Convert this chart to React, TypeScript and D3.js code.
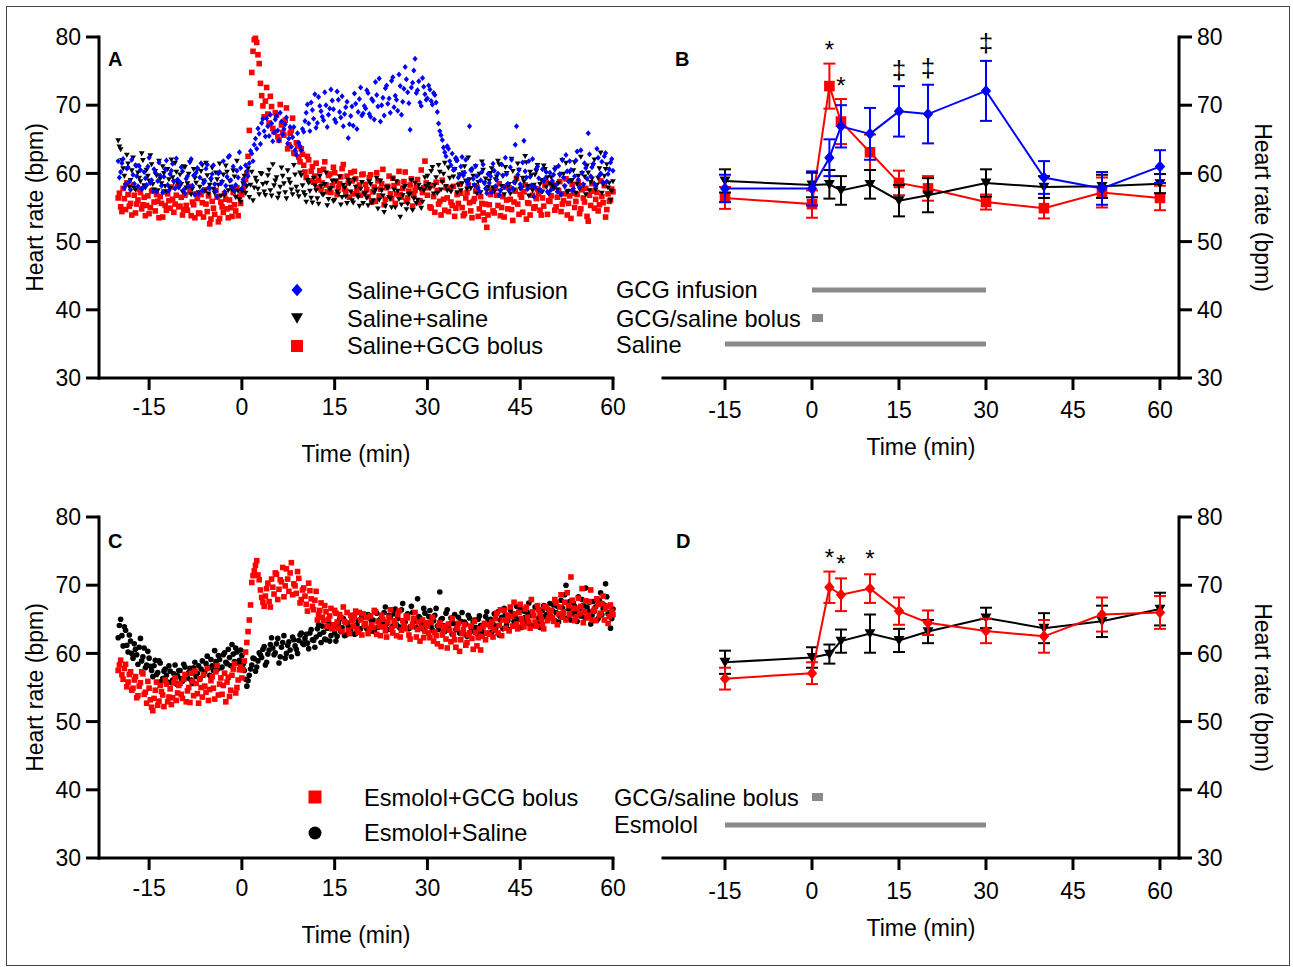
import React from 'react';
import * as d3 from 'd3';

const FONT = '"Liberation Sans", Arial, Helvetica, sans-serif';
const BLUE = '#0000ff';
const RED = '#ff0000';
const BLACK = '#000000';
const GRAY = '#8a8a8a';

// axis ticks
const xTickValues = [-15, 0, 15, 30, 45, 60];
const yTickValues = [30, 40, 50, 60, 70, 80];

// continuous recordings (A, C): readings every 0.4 min from -20 min,
// plus the readings half-way between them (from -19.8 min)
const scatterStart = -20;
const scatterStartMid = -19.8;
const scatterStep = 0.4;

const aInfusion = [
  61.8, 60.2, 62.1, 58.4, 60.9, 57.6, 59.8, 61.2, 58.1, 60.5, 57.9, 59.3, 61.0, 58.6, 57.4, 60.1, 58.9, 59.7, 57.2, 60.6, 58.3, 59.9, 61.4, 57.8, 59.1,
  58.7, 60.3, 57.1, 59.6, 61.7, 58.2, 56.9, 60.8, 59.4, 57.5, 58.9, 61.3, 57.8, 59.9, 58.4, 56.6, 60.2, 58.8, 57.3, 59.5, 62.6, 58.0, 57.4, 60.4, 63.1,
  57.8, 58.5, 60.3, 61.5, 62.9, 64.2, 63.6, 65.8, 67.4, 66.2, 68.1, 65.5, 67.3, 66.0, 68.4, 64.8, 67.6, 66.5, 68.2, 65.1, 63.9, 66.8, 62.7, 64.5, 63.4,
  66.1, 68.9, 67.3, 70.4, 68.0, 66.7, 71.2, 69.1, 67.8, 70.0, 68.6, 72.3, 69.4, 67.5, 70.8, 68.2, 66.9, 69.7, 65.2, 68.4, 67.0, 70.2, 69.0, 72.6, 68.8,
  69.5, 71.8, 68.3, 70.6, 73.4, 69.8, 67.6, 71.1, 72.5, 70.2, 68.9, 74.1, 71.4, 69.2, 72.8, 70.5, 75.6, 71.9, 66.4, 73.3, 76.8, 72.2, 70.4, 74.0, 71.6,
  71.0, 72.3, 70.1, 71.5, 69.0, 66.2, 64.9, 63.1, 64.0, 61.8, 62.9, 60.6, 61.9, 59.8, 62.4, 60.1, 58.9, 66.9, 60.7, 58.3, 59.6, 57.4, 60.2, 58.6, 57.1,
  58.6, 57.2, 60.4, 59.1, 56.8, 61.3, 58.0, 59.9, 57.5, 62.0, 58.7, 66.9, 60.5, 57.9, 64.8, 59.4, 61.8, 58.2, 56.6, 60.7, 59.3, 57.4, 58.9, 60.2, 57.1,
  57.6, 59.8, 58.3, 61.1, 57.0, 59.4, 62.7, 58.8, 60.5, 57.8, 61.9, 59.1, 63.4, 58.4, 60.8, 65.9, 59.6, 61.4, 58.1, 62.3, 60.0, 58.7, 63.0, 59.9, 61.6,
  60.4,
];
const aInfusionMid = [
  59.4, 61.5, 57.9, 60.7, 58.8, 62.0, 58.5, 59.6, 61.1, 57.7, 60.2, 58.3, 62.3, 59.0, 60.6, 57.3, 61.6, 58.2, 59.5, 61.9, 57.5, 60.4, 58.9, 62.2, 58.0,
  60.9, 57.6, 59.2, 58.1, 62.1, 59.7, 60.1, 57.0, 61.5, 58.6, 60.7, 57.9, 59.3, 61.2, 57.4, 60.0, 58.5, 61.8, 58.2, 62.4, 59.0, 61.0, 58.3, 59.4, 60.8,
  59.1, 61.2, 59.6, 63.3, 61.8, 65.1, 66.6, 64.3, 68.0, 65.4, 66.9, 68.6, 64.7, 67.9, 66.3, 68.9, 65.7, 67.2, 64.4, 66.8, 65.3, 63.4, 65.9, 64.0, 66.5,
  67.7, 70.1, 66.2, 69.3, 71.6, 67.4, 69.9, 68.3, 71.9, 66.8, 69.5, 70.7, 67.9, 72.0, 69.0, 71.3, 68.7, 70.5, 67.2, 69.8, 71.7, 66.5, 70.9, 68.5, 69.9,
  72.2, 68.7, 70.9, 67.9, 71.5, 73.9, 70.0, 68.5, 72.9, 71.0, 73.6, 69.7, 70.8, 74.5, 68.6, 72.4, 73.8, 70.3, 72.6, 75.1, 71.8, 73.5, 69.9, 72.7, 70.8,
  72.9, 70.6, 71.8, 70.4, 67.3, 65.6, 63.8, 62.5, 63.6, 61.2, 60.5, 62.3, 59.4, 61.0, 59.7, 62.0, 58.4, 60.5, 59.2, 61.1, 57.9, 59.0, 61.3, 57.8, 59.9,
  59.6, 61.4, 58.1, 60.0, 57.5, 59.7, 62.3, 58.5, 60.9, 57.8, 64.2, 59.8, 58.4, 61.6, 60.3, 57.7, 59.5, 62.1, 58.0, 61.0, 57.6, 60.6, 59.2, 57.3, 60.1,
  58.9, 60.7, 57.3, 59.9, 62.0, 58.2, 60.3, 61.8, 57.5, 59.6, 63.2, 58.0, 60.1, 61.5, 59.2, 62.8, 60.9, 58.5, 63.6, 59.7, 61.7, 62.5, 58.8, 60.6, 62.1,
];
const aSaline = [
  64.8, 63.5, 60.7, 58.2, 61.4, 59.0, 62.3, 57.6, 60.1, 58.8, 61.9, 57.9, 59.6, 62.6, 58.4, 60.3, 57.5, 59.2, 61.0, 58.1, 60.6, 57.8, 59.4, 61.5, 58.6,
  59.8, 57.3, 60.9, 58.5, 61.6, 57.7, 59.3, 60.5, 58.0, 61.2, 57.4, 59.7, 58.3, 60.8, 57.1, 59.1, 61.4, 58.7, 56.8, 60.2, 58.9, 57.6, 59.5, 61.8, 56.2,
  57.4, 59.6, 58.1, 56.5, 60.2, 57.9, 58.8, 56.9, 59.9, 57.3, 58.6, 60.5, 56.7, 58.2, 59.4, 57.0, 60.8, 58.5, 56.3, 59.1, 57.6, 61.2, 58.0, 56.6, 59.7,
  57.2, 55.8, 58.6, 56.4, 59.3, 57.5, 55.5, 58.1, 56.9, 60.1, 56.2, 57.8, 55.9, 58.9, 57.0, 55.4, 58.3, 56.6, 59.0, 57.3, 55.7, 58.0, 56.5, 57.7, 55.6,
  57.1, 55.3, 58.4, 56.0, 57.6, 54.8, 58.9, 56.7, 55.2, 57.9, 56.3, 59.2, 55.0, 57.4, 53.6, 56.8, 58.1, 55.5, 57.0, 54.6, 58.6, 56.1, 57.7, 55.8, 59.4,
  59.6, 57.8, 60.9, 58.3, 57.1, 60.2, 58.7, 61.5, 57.5, 59.3, 58.0, 60.6, 57.2, 59.8, 58.5, 61.0, 57.7, 59.1, 60.4, 58.2, 57.0, 59.9, 61.7, 58.6, 57.4,
  58.9, 60.7, 57.3, 59.5, 61.3, 58.1, 56.9, 60.0, 58.4, 62.1, 57.6, 59.2, 60.5, 57.9, 58.8, 61.6, 56.7, 59.7, 58.3, 60.3, 57.5, 59.0, 61.1, 58.0, 57.2,
  59.4, 57.8, 60.8, 58.6, 56.8, 59.9, 61.5, 57.4, 58.9, 60.4, 57.1, 59.6, 62.4, 58.2, 56.9, 60.1, 58.7, 61.2, 57.6, 59.3, 63.0, 58.4, 60.6, 57.9, 56.0,
  58.8,
];
const aSalineMid = [
  63.9, 61.9, 59.6, 62.7, 58.0, 60.4, 57.8, 61.1, 59.3, 62.9, 58.2, 60.5, 58.9, 61.3, 57.6, 59.7, 61.8, 58.5, 60.0, 57.3, 59.1, 62.0, 58.7, 60.2, 57.9,
  58.4, 61.0, 57.9, 59.9, 56.9, 60.6, 58.6, 57.2, 60.3, 58.9, 61.5, 57.0, 59.0, 57.7, 60.1, 58.3, 56.7, 59.8, 61.1, 57.5, 58.0, 60.4, 56.5, 57.4, 55.8,
  58.5, 57.1, 60.7, 58.3, 56.0, 59.3, 57.7, 60.0, 58.4, 56.8, 59.7, 57.5, 61.3, 58.9, 56.4, 58.0, 59.6, 57.2, 60.4, 58.6, 56.9, 59.8, 57.3, 60.1, 58.2,
  56.8, 59.0, 57.4, 55.7, 58.2, 56.3, 59.6, 56.9, 58.4, 55.3, 57.6, 58.9, 56.1, 57.3, 59.5, 56.5, 57.9, 55.6, 58.5, 56.0, 59.1, 56.8, 55.2, 58.7, 57.0,
  56.4, 58.8, 55.7, 57.2, 59.3, 56.1, 57.5, 54.3, 58.0, 56.5, 55.0, 57.6, 58.8, 56.2, 55.4, 57.9, 54.7, 56.9, 59.0, 56.3, 55.6, 58.3, 54.9, 57.5, 58.1,
  58.4, 60.3, 57.0, 59.4, 61.2, 57.6, 59.9, 58.1, 60.8, 57.3, 59.5, 61.9, 58.3, 57.5, 60.1, 58.9, 62.3, 57.8, 59.6, 61.0, 58.7, 57.2, 60.5, 59.2, 58.0,
  60.0, 57.9, 59.1, 61.8, 57.4, 59.6, 60.9, 58.2, 57.0, 60.3, 58.6, 61.4, 57.7, 59.3, 62.5, 58.1, 60.2, 57.5, 59.8, 61.2, 58.4, 57.3, 60.6, 59.4, 58.5,
  58.2, 60.5, 57.6, 59.7, 61.9, 58.0, 57.3, 60.2, 59.0, 61.6, 58.4, 57.7, 60.0, 59.5, 61.1, 57.5, 59.2, 62.0, 58.3, 60.7, 57.1, 59.6, 61.3, 58.6, 57.4,
];
const aBolus = [
  56.4, 55.1, 57.8, 54.7, 56.9, 55.6, 58.3, 54.2, 56.1, 57.2, 55.4, 53.8, 56.7, 55.0, 57.5, 54.5, 55.9, 56.6, 53.6, 55.3, 57.0, 54.9, 56.2, 55.5, 58.1,
  55.2, 53.9, 56.8, 54.6, 57.3, 55.8, 53.5, 56.3, 54.1, 55.7, 57.6, 54.4, 52.6, 55.9, 54.0, 56.5, 53.4, 55.1, 57.0, 54.8, 56.1, 53.7, 55.4, 57.9, 56.6,
  56.9, 58.2, 60.0, 66.3, 74.8, 79.6, 79.2, 76.1, 71.4, 68.3, 72.6, 67.4, 69.8, 66.1, 68.5, 64.9, 67.1, 65.6, 69.6, 64.2, 66.3, 63.0, 64.5, 62.4, 63.6,
  61.2, 59.4, 62.0, 60.3, 58.7, 61.5, 59.0, 57.6, 60.6, 58.3, 59.7, 57.2, 60.9, 58.8, 57.9, 59.5, 61.3, 57.4, 58.6, 60.1, 57.0, 59.2, 58.0, 56.8, 59.9,
  58.4, 56.6, 59.8, 57.3, 55.9, 58.9, 57.7, 60.6, 56.2, 58.1, 57.0, 59.3, 55.6, 58.6, 56.9, 57.8, 60.2, 56.4, 58.3, 55.2, 57.5, 59.1, 56.0, 57.2, 61.8,
  56.8, 55.1, 58.2, 54.3, 57.5, 55.9, 59.0, 54.6, 56.4, 57.8, 55.3, 53.7, 56.9, 58.4, 55.0, 54.1, 57.2, 55.7, 53.5, 56.3, 58.0, 54.8, 55.6, 53.2, 52.1,
  55.4, 57.6, 54.2, 56.8, 58.5, 55.0, 53.6, 56.1, 57.9, 54.7, 55.8, 59.3, 54.0, 56.5, 57.3, 53.3, 55.6, 58.1, 54.9, 56.3, 57.0, 53.9, 55.2, 58.7, 56.0,
  56.7, 58.3, 55.1, 57.5, 54.4, 56.0, 59.2, 55.6, 53.4, 57.1, 55.9, 58.6, 54.8, 56.4, 57.8, 53.0, 55.3, 57.4, 56.2, 54.5, 58.9, 55.7, 53.6, 57.0, 56.1,
  57.3,
];
const aBolusMid = [
  57.1, 54.4, 56.3, 58.6, 55.2, 53.9, 56.8, 55.5, 57.7, 54.8, 56.5, 55.3, 54.1, 57.4, 55.8, 56.9, 53.5, 55.6, 57.3, 54.6, 56.0, 58.0, 54.3, 56.8, 55.1,
  56.5, 54.7, 55.3, 58.1, 53.8, 55.4, 57.0, 54.2, 56.9, 53.6, 55.5, 56.7, 53.3, 54.9, 57.5, 52.9, 55.8, 54.3, 56.2, 53.5, 55.0, 57.2, 54.5, 53.8, 55.6,
  57.6, 59.1, 62.5, 70.3, 77.9, 79.8, 77.4, 73.2, 69.9, 70.6, 68.7, 71.3, 66.6, 68.9, 65.4, 70.1, 66.0, 67.8, 63.6, 65.9, 68.1, 62.9, 64.0, 61.7, 62.8,
  60.2, 62.5, 58.9, 61.0, 59.6, 57.9, 60.4, 58.6, 61.7, 57.3, 59.9, 58.2, 60.1, 56.9, 58.5, 60.7, 57.7, 59.6, 56.5, 58.9, 60.3, 57.5, 58.3, 59.8, 57.1,
  57.6, 59.4, 55.8, 58.0, 60.1, 56.7, 58.5, 55.4, 57.9, 59.6, 56.3, 58.2, 57.0, 60.3, 56.5, 58.8, 55.9, 57.4, 59.2, 56.8, 58.0, 55.7, 60.5, 57.9, 58.6,
  57.9, 54.9, 56.6, 58.7, 55.5, 53.9, 56.2, 57.9, 54.4, 55.8, 58.1, 54.9, 55.6, 57.1, 53.8, 56.4, 58.3, 54.5, 55.9, 57.4, 53.7, 56.6, 54.2, 55.5, 53.9,
  56.9, 54.5, 57.8, 55.3, 53.8, 56.6, 58.0, 54.8, 56.2, 53.1, 57.4, 55.5, 56.9, 54.3, 58.3, 55.7, 53.9, 56.8, 55.1, 57.7, 54.6, 56.4, 58.2, 54.0, 55.9,
  57.9, 54.6, 56.5, 58.8, 55.5, 57.0, 53.9, 56.7, 58.4, 55.0, 56.9, 54.1, 57.6, 55.8, 53.7, 56.8, 58.5, 54.9, 57.2, 55.4, 56.6, 58.2, 54.7, 55.9, 57.7,
];
const cBolus = [
  57.5, 59.0, 56.2, 58.4, 55.8, 57.3, 54.9, 56.6, 53.8, 55.7, 57.0, 54.3, 55.9, 53.2, 51.6, 54.6, 52.4, 55.3, 53.9, 56.1, 52.9, 54.8, 53.5, 56.4, 54.2,
  55.6, 53.4, 56.9, 54.5, 52.8, 55.9, 57.4, 54.1, 56.3, 53.6, 55.2, 57.8, 54.7, 56.6, 53.3, 58.2, 55.5, 54.0, 57.1, 55.8, 53.7, 56.8, 58.5, 55.0, 57.6,
  56.4, 58.9, 61.6, 64.9, 70.4, 72.1, 73.6, 70.8, 68.2, 66.9, 69.5, 67.6, 70.9, 68.7, 71.6, 69.4, 70.5, 68.3, 72.4, 69.1, 73.3, 70.2, 68.8, 71.0, 67.9,
  69.6, 67.2, 70.3, 68.0, 66.4, 69.1, 65.7, 67.4, 64.8, 66.1, 65.0, 66.6, 64.2, 65.9, 63.7, 65.3, 66.8, 64.5, 63.4, 65.6, 64.0, 66.2, 63.1, 64.9, 65.8,
  64.4, 62.9, 65.5, 63.8, 66.1, 64.7, 62.6, 65.0, 63.3, 64.6, 66.4, 63.0, 64.1, 65.7, 62.4, 64.8, 63.6, 65.2, 62.1, 64.3, 66.0, 63.5, 61.8, 64.9, 63.2,
  64.0, 62.3, 65.3, 63.1, 61.4, 64.5, 62.7, 63.9, 60.8, 63.4, 65.1, 62.0, 63.7, 60.3, 62.9, 64.2, 61.6, 63.0, 62.2, 64.7, 61.1, 63.6, 62.5, 64.4, 63.0,
  62.8, 64.6, 63.5, 65.9, 64.1, 62.6, 66.3, 64.8, 63.3, 65.4, 67.5, 64.3, 66.0, 65.1, 63.9, 66.8, 64.6, 67.9, 65.5, 64.0, 66.4, 65.0, 63.6, 66.7, 65.2,
  66.3, 64.7, 67.4, 65.8, 68.6, 66.1, 64.9, 67.0, 71.2, 66.6, 65.3, 68.1, 66.9, 64.5, 67.7, 65.6, 69.3, 66.2, 64.8, 67.2, 65.9, 68.4, 66.5, 64.4, 67.1,
  65.7,
];
const cBolusMid = [
  58.3, 56.9, 57.8, 55.1, 56.9, 54.6, 56.1, 53.5, 55.2, 57.3, 54.0, 52.7, 54.9, 52.1, 53.4, 55.8, 53.0, 54.4, 52.2, 55.5, 53.6, 52.5, 55.7, 53.1, 55.3,
  54.0, 56.2, 52.9, 55.0, 57.1, 53.8, 55.6, 52.7, 55.0, 56.9, 54.3, 53.1, 56.0, 54.9, 57.3, 53.9, 56.4, 55.3, 52.9, 56.5, 54.6, 57.7, 54.2, 56.1, 58.0,
  57.6, 60.2, 63.2, 67.1, 71.4, 72.9, 71.5, 69.3, 67.5, 68.4, 70.3, 66.8, 69.7, 71.8, 67.9, 70.8, 72.6, 69.9, 70.9, 71.8, 68.6, 69.9, 72.0, 67.4, 69.3,
  68.4, 66.2, 69.2, 66.9, 67.8, 64.9, 66.3, 65.3, 67.0, 64.0, 65.5, 63.6, 66.3, 64.6, 65.7, 63.2, 64.7, 66.0, 62.9, 64.8, 65.4, 63.6, 66.0, 62.7, 64.1,
  65.3, 63.6, 64.2, 66.3, 62.8, 64.0, 65.6, 63.9, 62.4, 65.3, 63.7, 64.8, 62.6, 66.2, 63.4, 64.1, 65.5, 62.7, 63.9, 65.1, 62.4, 64.6, 63.8, 62.3, 64.5,
  63.0, 64.6, 61.8, 62.6, 64.1, 61.0, 63.3, 62.1, 64.3, 61.7, 62.8, 60.9, 64.4, 62.0, 63.5, 61.2, 62.7, 64.0, 60.6, 63.1, 62.3, 60.5, 63.9, 62.0, 64.2,
  63.9, 62.4, 65.1, 63.0, 66.4, 64.9, 63.7, 65.6, 66.8, 64.0, 65.8, 63.6, 67.2, 64.4, 66.5, 65.3, 63.7, 66.1, 64.6, 67.0, 65.8, 64.2, 66.9, 64.8, 66.0,
  65.2, 67.9, 64.2, 66.8, 65.3, 67.5, 68.9, 65.7, 67.8, 64.8, 66.6, 65.8, 69.5, 66.1, 65.2, 67.6, 64.9, 66.5, 68.0, 65.6, 67.3, 64.9, 66.9, 65.4, 66.2,
];
const cSaline = [
  62.3, 65.0, 61.1, 63.4, 60.2, 61.8, 59.3, 60.6, 58.4, 62.2, 59.5, 57.9, 60.3, 58.1, 56.6, 59.0, 57.2, 58.6, 56.3, 57.7, 55.8, 57.4, 56.1, 58.3, 56.7,
  57.5, 55.9, 58.0, 56.4, 57.8, 55.6, 58.7, 57.1, 56.2, 58.9, 57.3, 59.6, 56.8, 58.2, 60.4, 57.6, 59.1, 58.0, 60.1, 58.5, 59.4, 61.3, 58.8, 60.2, 59.0,
  59.7, 57.5, 55.2, 56.8, 58.3, 59.2, 58.0, 60.1, 59.4, 61.0, 58.7, 60.5, 62.3, 59.8, 61.4, 58.6, 60.9, 62.6, 60.0, 61.7, 59.5, 62.0, 60.6, 61.9, 63.0,
  61.3, 62.8, 60.7, 63.5, 61.9, 62.4, 64.2, 61.6, 63.1, 62.0, 64.7, 62.6, 63.8, 61.8, 64.4, 63.2, 65.1, 62.7, 64.0, 63.4, 65.6, 62.9, 64.8, 63.6, 65.3,
  64.1, 65.7, 63.3, 64.9, 66.2, 63.8, 65.0, 64.4, 66.8, 63.5, 65.4, 64.0, 66.5, 65.1, 63.7, 67.3, 64.6, 65.8, 63.9, 66.0, 64.7, 68.0, 65.2, 63.6, 65.9,
  64.5, 66.3, 63.4, 65.6, 64.0, 69.0, 65.1, 63.2, 66.4, 64.3, 62.8, 65.7, 64.1, 63.0, 66.0, 64.6, 62.5, 65.2, 63.7, 64.9, 62.9, 65.5, 63.3, 64.2, 66.1,
  64.4, 63.1, 65.8, 64.0, 62.7, 65.3, 66.6, 64.2, 63.5, 65.9, 64.7, 66.9, 65.0, 63.8, 66.2, 64.5, 67.4, 65.6, 64.1, 66.7, 65.2, 63.9, 67.0, 65.7, 66.4,
  65.4, 67.1, 66.0, 64.6, 67.8, 65.9, 70.0, 66.5, 64.9, 67.4, 66.1, 68.3, 65.5, 67.0, 69.6, 66.2, 64.3, 67.6, 66.8, 65.1, 68.9, 66.6, 70.2, 65.8, 63.7,
  66.5,
];
const cSalineMid = [
  64.1, 62.6, 63.9, 61.2, 62.7, 60.0, 61.4, 59.8, 60.9, 58.9, 60.8, 58.3, 59.3, 57.5, 58.2, 56.9, 58.9, 55.9, 57.4, 56.8, 58.2, 55.7, 57.0, 55.5, 57.5,
  56.3, 58.4, 56.9, 57.2, 56.1, 57.9, 56.6, 58.2, 57.7, 56.8, 58.5, 57.9, 59.1, 57.5, 58.8, 59.7, 57.9, 59.8, 58.7, 60.6, 58.2, 59.9, 60.8, 58.6, 60.5,
  58.4, 56.2, 56.0, 57.7, 59.3, 57.4, 58.9, 59.8, 60.6, 58.3, 59.9, 61.3, 60.8, 60.1, 62.2, 59.5, 61.6, 59.3, 61.2, 60.5, 62.4, 61.1, 60.0, 62.7, 61.5,
  62.2, 61.5, 63.0, 62.0, 60.9, 63.6, 62.8, 64.0, 62.1, 63.7, 61.8, 64.1, 63.0, 62.5, 65.0, 63.8, 62.6, 64.5, 63.3, 64.9, 62.8, 64.2, 63.5, 65.4, 64.1,
  63.6, 65.2, 64.6, 63.2, 65.9, 64.8, 63.9, 66.0, 64.3, 65.6, 63.7, 65.8, 64.2, 63.9, 66.4, 64.0, 65.5, 63.6, 66.9, 64.9, 63.8, 65.4, 64.5, 66.6, 64.3,
  65.4, 63.9, 64.8, 66.6, 63.5, 65.0, 64.1, 65.9, 63.6, 65.2, 64.4, 63.5, 65.3, 64.7, 62.9, 64.3, 65.6, 63.2, 64.6, 63.8, 65.0, 64.1, 62.8, 65.4, 64.9,
  65.0, 64.3, 63.5, 66.1, 64.9, 63.6, 65.7, 64.8, 66.4, 64.0, 65.5, 63.9, 66.5, 64.8, 65.3, 66.0, 64.2, 65.9, 66.8, 64.6, 63.8, 66.3, 65.4, 64.9, 67.3,
  66.3, 64.8, 66.9, 65.5, 66.7, 68.6, 65.2, 67.6, 65.8, 66.9, 64.7, 66.6, 67.9, 65.3, 66.8, 67.5, 65.6, 66.2, 64.9, 67.8, 65.7, 67.1, 68.3, 66.0, 65.1,
];

// group means (B, D)
const sumTimes = [-15, 0, 3, 5, 10, 15, 20, 30, 40, 50, 60];
const bInfusionMean = [57.8, 57.8, 62.3, 66.9, 65.8, 69.1, 68.7, 72.1, 59.4, 57.8, 61.0];
const bInfusionErr = [2.0, 2.5, 2.7, 3.1, 3.8, 3.7, 4.3, 4.4, 2.4, 2.4, 2.4];
const bSalineMean = [58.9, 58.3, 58.4, 57.5, 58.4, 56.0, 56.8, 58.6, 58.0, 58.1, 58.5];
const bSalineErr = [1.7, 1.8, 2.1, 2.1, 2.1, 2.3, 2.5, 2.0, 1.6, 1.7, 1.4];
const bBolusMean = [56.4, 55.5, 72.8, 67.6, 63.1, 58.6, 57.8, 55.8, 54.9, 57.2, 56.4];
const bBolusErr = [1.6, 2.0, 3.3, 3.3, 2.6, 1.8, 1.8, 1.1, 1.5, 2.2, 1.8];
const dSalineMean = [58.7, 59.4, 59.9, 61.8, 62.9, 61.9, 63.2, 65.2, 63.7, 64.7, 66.5];
const dSalineErr = [1.7, 1.5, 1.4, 1.7, 2.8, 1.7, 1.7, 1.5, 2.2, 2.3, 2.4];
const dBolusMean = [56.3, 57.1, 69.7, 68.6, 69.5, 66.2, 64.5, 63.3, 62.5, 65.7, 66.0];
const dBolusErr = [1.6, 1.6, 2.3, 2.4, 2.1, 2.0, 1.8, 1.8, 2.4, 2.5, 2.4];

// significance marks (time, level in bpm)
const bStarTimes = [3, 5];
const bStarLevels = [79.0, 73.7];
const bDaggerTimes = [15, 20, 30];
const bDaggerLevels = [75.0, 75.3, 79.0];
const dStarTimes = [3, 5, 10];
const dStarLevels = [74.9, 74.0, 74.7];

// treatment periods (min)
const infusionSpan = [0, 30];
const bolusSpan = [0, 1.9];
const salineSpan = [-15, 30];

// scales
const yTop = d3.scaleLinear().domain([30, 80]).range([378, 37]);
const yBottom = d3.scaleLinear().domain([30, 80]).range([858, 517]);
const xLeft = d3.scaleLinear().domain([-23.1, 60]).range([99, 613]);
const xRight = d3.scaleLinear().domain([-25.69, 63.28]).range([663, 1179]);

const shapes: Record<string, (r: number) => string> = {
  diamond: (r) => `M0,${-r * 1.15}L${r},0L0,${r * 1.15}L${-r},0Z`,
  square: (r) => `M${-r},${-r}H${r}V${r}H${-r}Z`,
  triangle: (r) => `M${-r},${-r * 0.8}H${r}L0,${r * 0.95}Z`,
};

function Marker({ kind, x, y, r, fill }: any) {
  if (kind === 'circle') return <circle cx={x} cy={y} r={r} fill={fill} />;
  return <path d={shapes[kind](r)} transform={`translate(${x},${y})`} fill={fill} />;
}

function Frame({ xs, ys, side, xLabelY, titleY, yTitleX }: any) {
  const [x0, x1] = xs.range();
  const [yb, yt] = ys.range();
  const ax = side === 'left' ? x0 : x1;
  const dir = side === 'left' ? -1 : 1;
  const yMid = (yb + yt) / 2;
  return (
    <g fontFamily={FONT} fill="#000">
      <line x1={x0} x2={x1} y1={yb} y2={yb} stroke="#000" strokeWidth={3} strokeLinecap="square" />
      <line x1={ax} x2={ax} y1={yb} y2={yt} stroke="#000" strokeWidth={3} strokeLinecap="square" />
      {yTickValues.map((v) => (
        <g key={v}>
          <line x1={ax} x2={ax + dir * 13} y1={ys(v)} y2={ys(v)} stroke="#000" strokeWidth={3} />
          <text x={ax + dir * 18} y={ys(v)} dy="0.36em" fontSize={23}
            textAnchor={side === 'left' ? 'end' : 'start'}>{v}</text>
        </g>
      ))}
      {xTickValues.map((t) => (
        <g key={t}>
          <line x1={xs(t)} x2={xs(t)} y1={yb} y2={yb + 12} stroke="#000" strokeWidth={3} />
          <text x={xs(t)} y={xLabelY} dy="0.36em" fontSize={23} textAnchor="middle">{t}</text>
        </g>
      ))}
      <text x={(x0 + x1) / 2} y={titleY} dy="0.36em" fontSize={23} textAnchor="middle">Time (min)</text>
      <text transform={`translate(${yTitleX},${yMid}) rotate(${side === 'left' ? -90 : 90})`}
        dy="0.36em" fontSize={23} textAnchor="middle">Heart rate (bpm)</text>
    </g>
  );
}

function Scatter({ xs, ys, values, start, kind, color, r }: any) {
  return (
    <g>
      {values.map((v: number, i: number) => (
        <Marker key={i} kind={kind} x={xs(start + i * scatterStep)} y={ys(v)} r={r} fill={color} />
      ))}
    </g>
  );
}

function Means({ xs, ys, means, errs, kind, color, r }: any) {
  const line = d3.line<number>().x((_, i) => xs(sumTimes[i])).y((d) => ys(d));
  return (
    <g>
      <path d={line(means) || ''} fill="none" stroke={color} strokeWidth={2} />
      {means.map((m: number, i: number) => {
        const x = xs(sumTimes[i]);
        const hi = ys(m + errs[i]);
        const lo = ys(m - errs[i]);
        return (
          <g key={i} stroke={color} strokeWidth={2}>
            <line x1={x} x2={x} y1={hi} y2={lo} />
            <line x1={x - 6} x2={x + 6} y1={hi} y2={hi} />
            <line x1={x - 6} x2={x + 6} y1={lo} y2={lo} />
          </g>
        );
      })}
      {means.map((m: number, i: number) => (
        <Marker key={'m' + i} kind={kind} x={xs(sumTimes[i])} y={ys(m)} r={r} fill={color} />
      ))}
    </g>
  );
}

function Marks({ xs, ys, times, levels, glyph, size, shift }: any) {
  return (
    <g fontFamily={FONT} fontSize={size} textAnchor="middle">
      {times.map((t: number, i: number) => (
        <text key={i} x={xs(t)} y={ys(levels[i]) + shift}>{glyph}</text>
      ))}
    </g>
  );
}

function Bar({ xs, span, y, h }: any) {
  return <rect x={xs(span[0])} y={y - h / 2} width={xs(span[1]) - xs(span[0])} height={h} fill={GRAY} />;
}

function PanelLetter({ x, y, children }: any) {
  return <text x={x} y={y} fontFamily={FONT} fontSize={20} fontWeight="bold">{children}</text>;
}

export default function App() {
  const lt = { fontFamily: FONT, fontSize: 23.6 } as any;
  return (
    <div style={{ position: 'absolute', left: 0, top: 0 }}>
      <svg width={1293} height={967} style={{ display: 'block', background: '#fff' }}>
        <rect x={6.5} y={6.5} width={1283} height={959} fill="none" stroke="#444" strokeWidth={1} />

        {/* A */}
        <Scatter xs={xLeft} ys={yTop} values={aBolus} start={scatterStart} kind="square" color={RED} r={2.8} />
        <Scatter xs={xLeft} ys={yTop} values={aBolusMid} start={scatterStartMid} kind="square" color={RED} r={2.8} />
        <Scatter xs={xLeft} ys={yTop} values={aSaline} start={scatterStart} kind="triangle" color={BLACK} r={2.9} />
        <Scatter xs={xLeft} ys={yTop} values={aSalineMid} start={scatterStartMid} kind="triangle" color={BLACK} r={2.9} />
        <Scatter xs={xLeft} ys={yTop} values={aInfusion} start={scatterStart} kind="diamond" color={BLUE} r={2.6} />
        <Scatter xs={xLeft} ys={yTop} values={aInfusionMid} start={scatterStartMid} kind="diamond" color={BLUE} r={2.6} />
        <Frame xs={xLeft} ys={yTop} side="left" xLabelY={407} titleY={454} yTitleX={35} />
        <PanelLetter x={108} y={66}>A</PanelLetter>
        <Marker kind="diamond" x={297} y={290} r={5.5} fill={BLUE} />
        <Marker kind="triangle" x={297} y={318} r={6} fill={BLACK} />
        <Marker kind="square" x={297} y={346} r={6} fill={RED} />
        <text {...lt} x={347} y={291} dy="0.36em">Saline+GCG infusion</text>
        <text {...lt} x={347} y={319} dy="0.36em">Saline+saline</text>
        <text {...lt} x={347} y={346} dy="0.36em">Saline+GCG bolus</text>

        {/* B */}
        <Means xs={xRight} ys={yTop} means={bBolusMean} errs={bBolusErr} kind="square" color={RED} r={5.3} />
        <Means xs={xRight} ys={yTop} means={bSalineMean} errs={bSalineErr} kind="triangle" color={BLACK} r={5.5} />
        <Means xs={xRight} ys={yTop} means={bInfusionMean} errs={bInfusionErr} kind="diamond" color={BLUE} r={5.2} />
        <Marks xs={xRight} ys={yTop} times={bStarTimes} levels={bStarLevels} glyph="*" size={24} shift={14} />
        <Marks xs={xRight} ys={yTop} times={bDaggerTimes} levels={bDaggerLevels} glyph="‡" size={26} shift={8} />
        <Frame xs={xRight} ys={yTop} side="right" xLabelY={410} titleY={447} yTitleX={1263} />
        <PanelLetter x={675} y={66}>B</PanelLetter>
        <text {...lt} x={616} y={290} dy="0.36em">GCG infusion</text>
        <text {...lt} x={616} y={319} dy="0.36em">GCG/saline bolus</text>
        <text {...lt} x={616} y={345} dy="0.36em">Saline</text>
        <Bar xs={xRight} span={infusionSpan} y={290} h={5} />
        <Bar xs={xRight} span={bolusSpan} y={318} h={8} />
        <Bar xs={xRight} span={salineSpan} y={344} h={5} />

        {/* C */}
        <Scatter xs={xLeft} ys={yBottom} values={cSaline} start={scatterStart} kind="circle" color={BLACK} r={2.8} />
        <Scatter xs={xLeft} ys={yBottom} values={cSalineMid} start={scatterStartMid} kind="circle" color={BLACK} r={2.8} />
        <Scatter xs={xLeft} ys={yBottom} values={cBolus} start={scatterStart} kind="square" color={RED} r={2.8} />
        <Scatter xs={xLeft} ys={yBottom} values={cBolusMid} start={scatterStartMid} kind="square" color={RED} r={2.8} />
        <Frame xs={xLeft} ys={yBottom} side="left" xLabelY={888} titleY={935} yTitleX={35} />
        <PanelLetter x={108} y={548}>C</PanelLetter>
        <Marker kind="square" x={315} y={797} r={6.5} fill={RED} />
        <Marker kind="circle" x={315} y={833} r={6.5} fill={BLACK} />
        <text {...lt} x={364} y={798} dy="0.36em">Esmolol+GCG bolus</text>
        <text {...lt} x={364} y={833} dy="0.36em">Esmolol+Saline</text>

        {/* D */}
        <Means xs={xRight} ys={yBottom} means={dSalineMean} errs={dSalineErr} kind="triangle" color={BLACK} r={5.5} />
        <Means xs={xRight} ys={yBottom} means={dBolusMean} errs={dBolusErr} kind="diamond" color={RED} r={5.2} />
        <Marks xs={xRight} ys={yBottom} times={dStarTimes} levels={dStarLevels} glyph="*" size={24} shift={14} />
        <Frame xs={xRight} ys={yBottom} side="right" xLabelY={891} titleY={928} yTitleX={1263} />
        <PanelLetter x={676} y={548}>D</PanelLetter>
        <text {...lt} x={614} y={798} dy="0.36em">GCG/saline bolus</text>
        <text {...lt} x={614} y={825} dy="0.36em">Esmolol</text>
        <Bar xs={xRight} span={bolusSpan} y={797} h={8} />
        <Bar xs={xRight} span={salineSpan} y={825} h={5} />
      </svg>
    </div>
  );
}
